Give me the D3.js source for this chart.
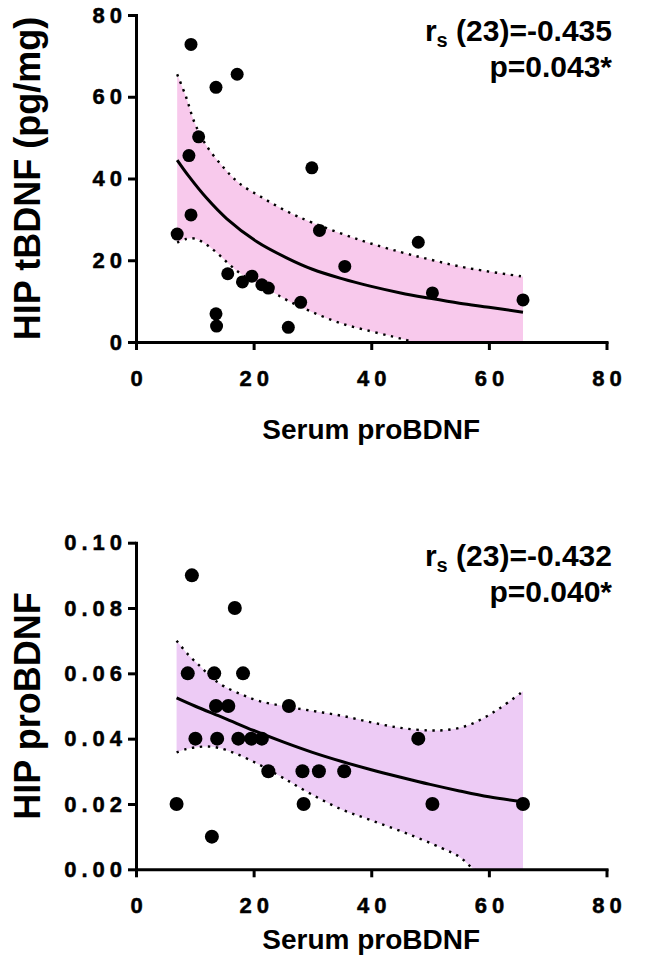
<!DOCTYPE html>
<html><head><meta charset="utf-8">
<script src="https://cdn.jsdelivr.net/npm/d3@7"></script>
<style>
body{margin:0;background:#fff}
svg{display:block}
text{font-family:"Liberation Sans",Arial,Helvetica,sans-serif;font-weight:bold;fill:#000}
</style>
</head><body>
<svg id="chart" width="646" height="959"></svg>
<script>
// ---------- data ----------
const xTicks = [0, 20, 40, 60, 80];
const topYTicks = [0, 20, 40, 60, 80];
const botYTicks = [0, 0.02, 0.04, 0.06, 0.08, 0.10];

// Panel A: HIP tBDNF vs serum proBDNF
const topSerum = [7.0, 9.35, 9.0, 10.65, 9.35, 13.6, 17.2, 29.9, 15.6, 18.1, 19.7, 21.4, 22.5, 13.6, 13.7, 25.9, 28.0, 31.2, 35.5, 48.0, 50.4, 65.8];
const topHip   = [26.4, 31.1, 45.6, 50.2, 72.8, 62.3, 65.5, 42.6, 16.7, 14.7, 16.1, 14.0, 13.2, 6.9, 3.9, 3.6, 9.7, 27.3, 18.5, 24.4, 12.0, 10.3];
const topFitX  = [7.0, 9, 12, 15.4, 20.5, 25.6, 30, 35, 40, 45, 50, 55, 60, 65.8];
const topFitY  = [44.5, 40.5, 35.2, 30.2, 24.6, 20.6, 17.8, 15.5, 13.6, 12.0, 10.7, 9.5, 8.5, 7.3];
const topUpX   = [7.0, 8.5, 10, 12, 15, 17.6, 21.5, 25.6, 30, 38, 45, 50.5, 56, 65.8];
const topUpY   = [65.5, 60, 53.5, 48, 42.5, 38.8, 35.3, 32, 29.2, 25, 22, 20, 18.2, 16.0];
const topLoX   = [7.0, 8.5, 10, 12, 14, 16, 18, 20, 23, 26, 30, 35, 40, 44, 47.2, 55, 65.8];
const topLoY   = [24.3, 25.2, 25.3, 23.8, 21.5, 18.8, 16.5, 14.8, 12.4, 10.0, 7.3, 4.5, 2.6, 1.2, 0, -3, -6];

// Panel B: HIP proBDNF vs serum proBDNF
const botSerum = [9.5, 16.8, 8.8, 13.3, 18.2, 13.6, 15.7, 26.0, 10.1, 13.8, 17.4, 19.6, 21.4, 48.0, 22.5, 28.3, 31.1, 35.4, 6.9, 28.5, 50.4, 65.8, 12.9];
const botHip   = [0.09, 0.08, 0.06, 0.06, 0.06, 0.05, 0.05, 0.05, 0.04, 0.04, 0.04, 0.04, 0.04, 0.04, 0.03, 0.03, 0.03, 0.03, 0.02, 0.02, 0.02, 0.02, 0.01];
const botFitX  = [6.9, 10, 15, 20, 25, 30, 35, 40, 45, 50, 55, 60, 65.8];
const botFitY  = [0.0525, 0.0500, 0.0463, 0.0425, 0.0390, 0.0358, 0.0330, 0.0305, 0.0282, 0.0260, 0.0240, 0.0222, 0.0207];
const botUpX   = [6.9, 9, 11, 13, 15, 18, 21, 25, 30, 35, 40, 45, 50, 53, 56, 59, 62, 65.8];
const botUpY   = [0.070, 0.0655, 0.062, 0.0585, 0.056, 0.0535, 0.0515, 0.050, 0.0485, 0.047, 0.045, 0.0433, 0.0425, 0.0427, 0.0438, 0.0462, 0.0495, 0.0545];
const botLoX   = [6.9, 8.5, 10, 12, 14, 17, 21, 25, 29.6, 35, 40, 46, 52, 55, 57.5, 62, 65.8];
const botLoY   = [0.0358, 0.0368, 0.0373, 0.0376, 0.0372, 0.0354, 0.032, 0.028, 0.0232, 0.0183, 0.015, 0.011, 0.0065, 0.0038, 0.0, -0.004, -0.008];

const panels = [
  {id:"a", sx: topSerum, sy: topHip, fitX: topFitX, fitY: topFitY, upX: topUpX, upY: topUpY, loX: topLoX, loY: topLoY,
   yDomain:[0,80], yRange:[342,15], yTicks: topYTicks, fmt: d3.format("d"), fill:"#f8c9ec",
   yTitle:"HIP tBDNF (pg/mg)", stat1:" (23)=-0.435", stat2:"p=0.043*", statY:[41,77], xTitleY:439, r:6.5},
  {id:"b", sx: botSerum, sy: botHip, fitX: botFitX, fitY: botFitY, upX: botUpX, upY: botUpY, loX: botLoX, loY: botLoY,
   yDomain:[0,0.10], yRange:[869.3,542.7], yTicks: botYTicks, fmt: d3.format(".2f"), fill:"#edcbf5",
   yTitle:"HIP proBDNF", stat1:" (23)=-0.432", stat2:"p=0.040*", statY:[566,602], xTitleY:949, r:7}
];

const svg = d3.select("#chart");
const xRange = [136, 606.5];
const LS = 5; // letter spacing of tick labels

panels.forEach(p => {
  const x = d3.scaleLinear().domain([0,80]).range(xRange);
  const y = d3.scaleLinear().domain(p.yDomain).range(p.yRange);
  const g = svg.append("g");

  svg.append("clipPath").attr("id","clip-"+p.id)
    .append("rect").attr("x", xRange[0]).attr("y", 0)
    .attr("width", xRange[1]-xRange[0]+20).attr("height", p.yRange[0]);

  const curve = d3.curveCatmullRom.alpha(0.5);
  const up = p.upX.map((v,i)=>[v,p.upY[i]]);
  const lo = p.loX.map((v,i)=>[v,p.loY[i]]);
  const fit = p.fitX.map((v,i)=>[v,p.fitY[i]]);
  const line = d3.line().x(d=>x(d[0])).y(d=>y(d[1])).curve(curve);

  const cg = g.append("g").attr("clip-path","url(#clip-"+p.id+")");
  const upPath = line(up);
  const loPath = line(lo.slice().reverse());
  cg.append("path").attr("d", upPath + "L" + loPath.slice(1) + "Z")
    .attr("fill", p.fill).attr("stroke","none");
  [up, lo].forEach(arr => {
    cg.append("path").attr("d", line(arr)).attr("fill","none")
      .attr("stroke","#000").attr("stroke-width",2.4).attr("stroke-dasharray","2.4,5.6");
  });
  cg.append("path").attr("d", line(fit)).attr("fill","none")
    .attr("stroke","#000").attr("stroke-width",3);

  g.append("g").selectAll("circle").data(p.sx.map((v,i)=>[v,p.sy[i]])).join("circle")
    .attr("cx", d=>x(d[0])).attr("cy", d=>y(d[1])).attr("r", p.r).attr("fill","#000");

  const ya = g.append("g").attr("transform",`translate(${xRange[0]},0)`)
    .call(d3.axisLeft(y).tickValues(p.yTicks).tickFormat(p.fmt).tickSize(8).tickSizeOuter(0).tickPadding(6));
  const xa = g.append("g").attr("transform",`translate(0,${p.yRange[0]})`)
    .call(d3.axisBottom(x).tickValues(xTicks).tickFormat(d3.format("d")).tickSize(8).tickSizeOuter(0).tickPadding(20));
  [ya, xa].forEach(a => {
    a.attr("font-size", null).attr("font-family", null);
    a.select(".domain").attr("stroke","#000").attr("stroke-width",3).attr("stroke-linecap","square");
    a.selectAll(".tick line").attr("stroke","#000").attr("stroke-width",3);
    a.selectAll("text")
      .style("font-size","22px").style("font-weight","bold")
      .style("font-family","'Liberation Sans',Arial,sans-serif")
      .style("letter-spacing", LS+"px").attr("fill","#000")
      .attr("stroke","#000").attr("stroke-width",0.5);
  });
  ya.selectAll("text").attr("dx", LS);
  xa.selectAll("text").attr("dx", LS/2);

  g.append("text").attr("transform",`translate(40,${(p.yRange[0]+p.yRange[1])/2}) rotate(-90)`)
    .attr("text-anchor","middle").attr("font-size",36).text(p.yTitle);
  g.append("text").attr("x",(xRange[0]+xRange[1])/2).attr("y",p.xTitleY)
    .attr("text-anchor","middle").attr("font-size",28).text("Serum proBDNF");

  const t1 = g.append("text").attr("x",612).attr("y",p.statY[0]).attr("text-anchor","end").attr("font-size",30);
  t1.append("tspan").text("r");
  t1.append("tspan").attr("font-size",20).attr("dy",6).text("s");
  t1.append("tspan").attr("dy",-6).text(p.stat1);
  g.append("text").attr("x",612).attr("y",p.statY[1]).attr("text-anchor","end").attr("font-size",30).text(p.stat2);
});
</script>
</body></html>
